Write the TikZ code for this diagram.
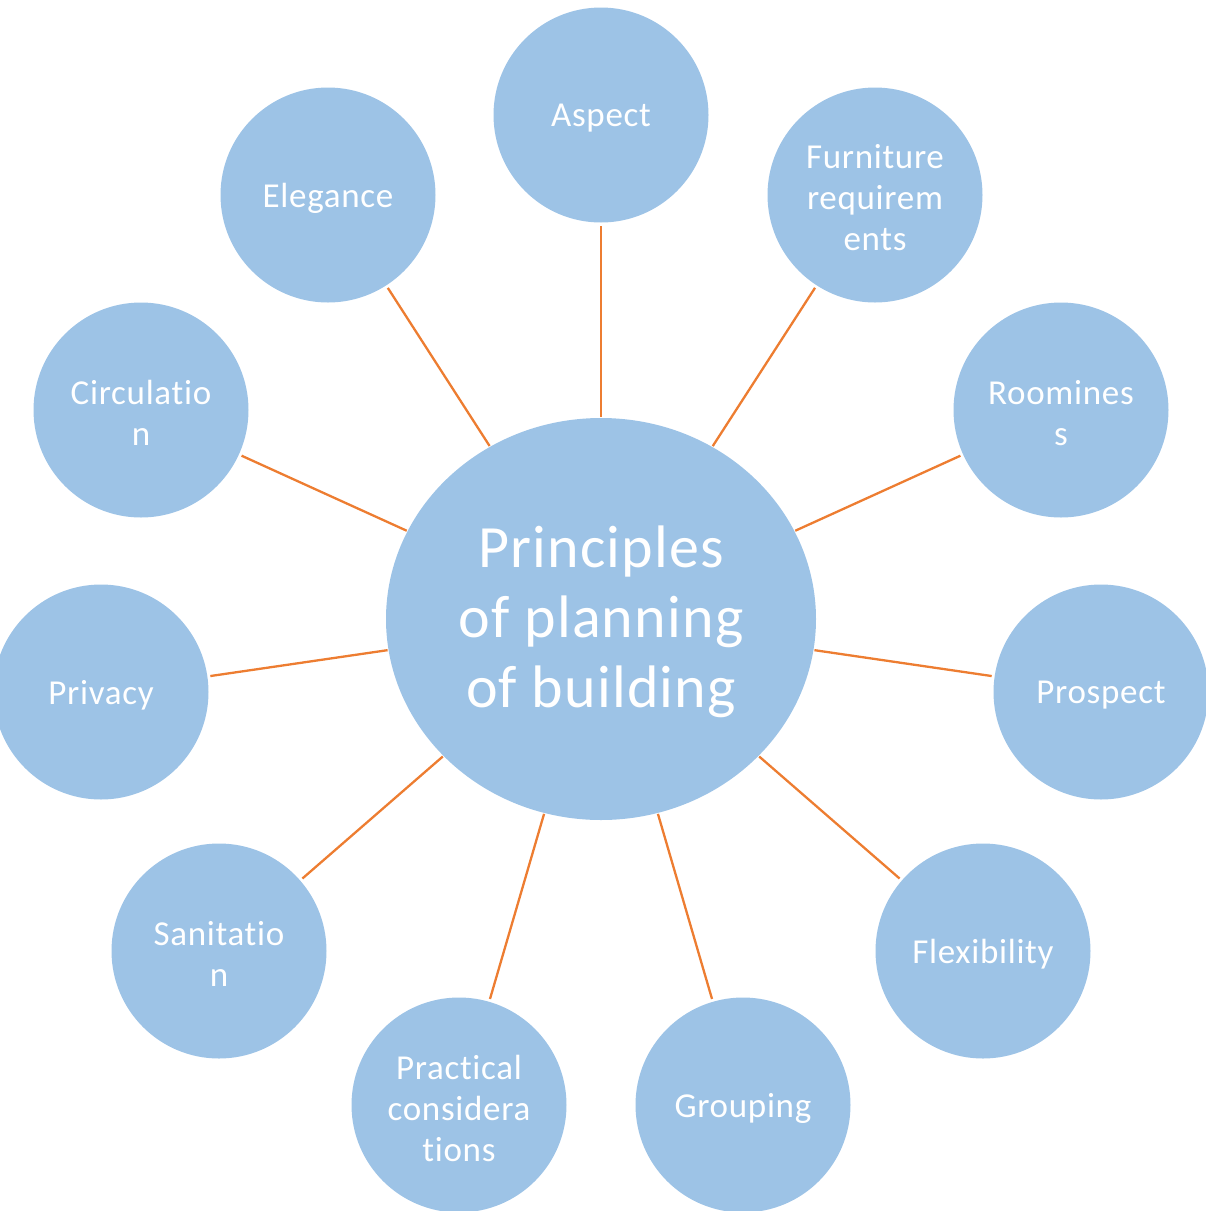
\documentclass[tikz,border=0pt]{standalone}
\usepackage{fontspec}
\setmainfont{Carlito}[Ligatures=NoCommon,LetterSpace=2]
\usetikzlibrary{shapes.geometric}
\definecolor{bubble}{HTML}{9DC3E6}
\definecolor{link}{HTML}{ED7D31}
\begin{document}
\begin{tikzpicture}[x=1pt,y=-1pt,
  hub/.style={ellipse,fill=bubble,draw=none,minimum width=430pt,minimum height=402pt,inner sep=0pt,outer sep=0pt,
    label={[text=white,align=center,font=\fontsize{60}{70}\selectfont,yshift=-3pt]center:{#1}}},
  leaf/.style={circle,fill=bubble,draw=none,minimum size=215pt,inner sep=0pt,outer sep=0pt,
    label={[text=white,align=center,font=\fontsize{35}{41}\selectfont,yshift=-3pt]center:{#1}}},
  spoke/.style={draw=link,line width=2.3pt,shorten <=1pt,shorten >=3pt}]
\useasboundingbox (0,0) rectangle (1206,1211);
\clip (0,0) rectangle (1206,1211);
\node[hub={Principles\\of planning\\of building}] (c) at (601,619) {};
\node[leaf={Aspect}] (asp) at (601,115) {};
\node[leaf={Furniture\\requirem\\ents}] (fur) at (875,195) {};
\node[leaf={Roomines\\s}] (roo) at (1061,410) {};
\node[leaf={Prospect}] (pro) at (1101,692) {};
\node[leaf={Flexibility}] (fle) at (983,951) {};
\node[leaf={Grouping}] (gro) at (743,1105) {};
\node[leaf={Practical\\considera\\tions}] (pra) at (459,1105) {};
\node[leaf={Sanitatio\\n}] (san) at (219,951) {};
\node[leaf={Privacy}] (pri) at (101,692) {};
\node[leaf={Circulatio\\n}] (cir) at (141,410) {};
\node[leaf={Elegance}] (ele) at (328,195) {};
\foreach \n in {asp,fur,roo,pro,fle,gro,pra,san,pri,cir,ele}
  \draw[spoke] (c) -- (\n);
\end{tikzpicture}
\end{document}
